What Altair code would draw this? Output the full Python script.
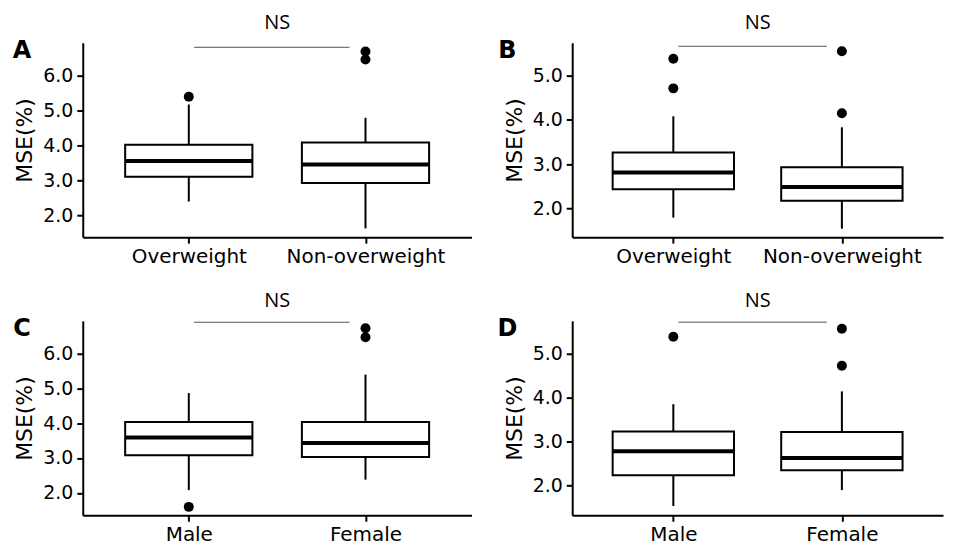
import altair as alt
import pandas as pd

# ---------------- data ----------------
weight_cats = ["Overweight", "Non-overweight"]
sex_cats = ["Male", "Female"]

# Panel A
A_low = [2.39, 1.62]
A_q1 = [3.10, 2.92]
A_med = [3.55, 3.45]
A_q3 = [4.02, 4.08]
A_high = [5.17, 4.79]
A_out_cat = ["Overweight", "Non-overweight", "Non-overweight"]
A_out_val = [5.39, 6.69, 6.46]

# Panel B
B_low = [1.79, 1.54]
B_q1 = [2.43, 2.17]
B_med = [2.81, 2.48]
B_q3 = [3.26, 2.93]
B_high = [4.08, 3.83]
B_out_cat = ["Overweight", "Overweight", "Non-overweight", "Non-overweight"]
B_out_val = [5.38, 4.71, 5.55, 4.15]

# Panel C
C_low = [2.08, 2.38]
C_q1 = [3.08, 3.03]
C_med = [3.59, 3.43]
C_q3 = [4.03, 4.03]
C_high = [4.86, 5.39]
C_out_cat = ["Male", "Female", "Female"]
C_out_val = [1.60, 6.72, 6.46]

# Panel D
D_low = [1.54, 1.90]
D_q1 = [2.24, 2.35]
D_med = [2.78, 2.63]
D_q3 = [3.23, 3.22]
D_high = [3.85, 4.14]
D_out_cat = ["Male", "Female", "Female"]
D_out_val = [5.38, 5.56, 4.72]

# significance brackets (y value) and axis domains
bracket_y = {"A": 6.81, "B": 5.66, "C": 6.89, "D": 5.71}
bracket_x = [1.03, 1.91]
y_domains = {"A": [1.37, 6.94], "B": [1.35, 5.74], "C": [1.36, 6.93], "D": [1.33, 5.74]}
y_ticks = {"A": [2, 3, 4, 5, 6], "B": [2, 3, 4, 5], "C": [2, 3, 4, 5, 6], "D": [2, 3, 4, 5]}
sig_label = "NS"
y_title = "MSE(%)"

HALF = 0.36
FONT = "DejaVu Sans"


def panel(letter, cats, low, q1, med, q3, high, out_cat, out_val, width, letter_dx):
    pos = [i + 1 for i in range(len(cats))]
    box = pd.DataFrame({"cat": cats, "pos": pos, "low": low, "q1": q1,
                        "med": med, "q3": q3, "high": high})
    box["left"] = box["pos"] - HALF
    box["right"] = box["pos"] + HALF
    out = pd.DataFrame({"pos": [cats.index(c) + 1 for c in out_cat], "val": out_val})
    br = pd.DataFrame({"x1": [bracket_x[0]], "x2": [bracket_x[1]], "y": [bracket_y[letter]]})
    lab = pd.DataFrame({"t": [letter]})

    label_expr = " : ".join(
        f"datum.value == {p} ? '{c}'" for p, c in zip(pos, cats)) + " : ''"

    xs = alt.Scale(domain=[0.4, 2.6], nice=False, zero=False)
    ys = alt.Scale(domain=y_domains[letter], nice=False, zero=False)
    xaxis = alt.Axis(values=pos, labelExpr=label_expr, title=None, grid=False,
                     labelFontSize=20, labelPadding=3, tickSize=6)
    yaxis = alt.Axis(values=y_ticks[letter], format=".1f", title=y_title, grid=False,
                     labelFontSize=19, labelPadding=4, tickSize=6,
                     titleFontSize=22, titleFontWeight="normal", titlePadding=6)

    base = alt.Chart(box)
    whisk = base.mark_rule(color="black", strokeWidth=2).encode(
        x=alt.X("pos:Q", scale=xs, axis=xaxis),
        y=alt.Y("low:Q", scale=ys, axis=yaxis),
        y2="high:Q")
    boxes = base.mark_bar(fill="white", stroke="black", strokeWidth=2).encode(
        x=alt.X("left:Q", scale=xs, axis=xaxis), x2="right:Q",
        y=alt.Y("q1:Q", scale=ys, axis=yaxis), y2="q3:Q")
    meds = base.mark_rule(color="black", strokeWidth=4).encode(
        x=alt.X("left:Q", scale=xs, axis=xaxis), x2="right:Q",
        y=alt.Y("med:Q", scale=ys, axis=yaxis))
    pts = alt.Chart(out).mark_circle(color="black", opacity=1, size=100).encode(
        x=alt.X("pos:Q", scale=xs, axis=xaxis),
        y=alt.Y("val:Q", scale=ys, axis=yaxis))
    brk = alt.Chart(br).mark_rule(color="#555555", strokeWidth=1).encode(
        x=alt.X("x1:Q", scale=xs, axis=xaxis), x2="x2:Q",
        y=alt.Y("y:Q", scale=ys, axis=yaxis))
    let = alt.Chart(lab).mark_text(font=FONT, fontSize=24, fontWeight="bold",
                                   align="center", baseline="middle", color="black").encode(
        text="t:N", x=alt.value(letter_dx), y=alt.value(8))

    return alt.layer(whisk, boxes, meds, pts, brk, let).properties(
        width=width, height=195,
        title=alt.TitleParams(sig_label, font="Open Sans", fontSize=20,
                              fontWeight="normal", anchor="middle", offset=6,
                              color="black"))


pA = panel("A", weight_cats, A_low, A_q1, A_med, A_q3, A_high, A_out_cat, A_out_val, 390, -61)
pB = panel("B", weight_cats, B_low, B_q1, B_med, B_q3, B_high, B_out_cat, B_out_val, 372, -65)
pC = panel("C", sex_cats, C_low, C_q1, C_med, C_q3, C_high, C_out_cat, C_out_val, 390, -61)
pD = panel("D", sex_cats, D_low, D_q1, D_med, D_q3, D_high, D_out_cat, D_out_val, 372, -65)

chart = alt.vconcat(
    alt.hconcat(pA, pB, spacing=26),
    alt.hconcat(pC, pD, spacing=26),
    spacing=25,
).configure(
    font=FONT, padding=4
).configure_view(
    stroke=None
).configure_axis(
    domainColor="black", domainWidth=2, tickColor="black", tickWidth=2,
    labelColor="black", titleColor="black", labelFont=FONT, titleFont=FONT
)

chart.save("out.html", embed_options={"renderer": "svg", "actions": False})
